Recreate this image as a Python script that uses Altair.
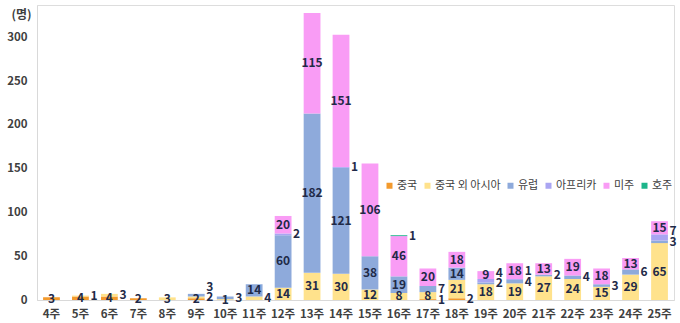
import altair as alt
import pandas as pd

weeks = [f"{w}주" for w in range(4, 26)]
categories = ["중국", "중국 외 아시아", "유럽", "아프리카", "미주", "호주"]
colors = ["#F39A2D", "#FFE28C", "#8EAADB", "#AAA5F2", "#F99CF5", "#1DB58A"]

china    = [3, 4, 4, 2, 0, 2, 0, 0, 0, 0, 0, 0, 0, 1, 2, 0, 0, 0, 0, 0, 0, 0]
asia     = [0, 1, 3, 0, 3, 2, 1, 4, 14, 31, 30, 12, 8, 8, 21, 18, 19, 27, 24, 15, 29, 65]
europe   = [0, 0, 0, 0, 0, 3, 3, 14, 60, 182, 121, 38, 19, 7, 14, 2, 4, 2, 4, 3, 6, 3]
africa   = [0, 0, 0, 0, 0, 0, 0, 0, 2, 0, 1, 0, 0, 0, 0, 4, 1, 0, 0, 0, 0, 7]
americas = [0, 0, 0, 0, 0, 0, 0, 0, 20, 115, 151, 106, 46, 20, 18, 9, 18, 13, 19, 18, 13, 15]
australia = [0, 0, 0, 0, 0, 0, 0, 0, 0, 0, 0, 0, 1, 0, 0, 0, 0, 0, 0, 0, 0, 0]

series = [china, asia, europe, africa, americas, australia]

# stacked segments (derived from the arrays above)
rows = []
for wi, w in enumerate(weeks):
    base_v = 0
    segs = [(ci, series[ci][wi]) for ci in range(len(categories)) if series[ci][wi] > 0]
    prev_out = -1e9
    for si, (ci, v) in enumerate(segs):
        mid = base_v + v / 2
        small = v < 8
        if small and si == 0 and (len(segs) == 1 or segs[1][1] < 8):
            small = False
        if small:
            ly = max(mid, prev_out + 12)
            prev_out = ly
        else:
            ly = mid
        rows.append({"week": w, "category": categories[ci], "value": v, "order": ci,
                     "y0": base_v, "y1": base_v + v, "ly": ly,
                     "side": "out" if small else "in"})
        base_v += v
df = pd.DataFrame(rows)

x_axis = alt.Axis(labelAngle=0, labelFontWeight="bold", labelFontSize=11.5,
                  labelColor="#404040", labelFont="Noto Sans CJK KR",
                  ticks=False, domainColor="#D9D9D9", labelPadding=8)
x_enc = alt.X("week:N", sort=weeks, title=None,
              scale=alt.Scale(paddingInner=0.42, paddingOuter=0.21), axis=x_axis)

bars = alt.Chart(df).mark_bar().encode(
    x=x_enc,
    y=alt.Y("y0:Q", title="(명)",
            scale=alt.Scale(domain=[0, 337], nice=False),
            axis=alt.Axis(values=[0, 50, 100, 150, 200, 250, 300], grid=False, ticks=False,
                          domainColor="#D9D9D9", labelFontWeight="bold", labelFontSize=11.5,
                          labelColor="#404040", labelPadding=10,
                          labelFont="Noto Sans CJK KR",
                          titleAngle=0, titleX=-16, titleY=9, titleAlign="center",
                          titleBaseline="middle", titleFontSize=12, titleFontWeight="bold",
                          titleColor="#404040", titleFont="Noto Sans CJK KR")),
    y2="y1:Q",
    color=alt.Color("category:N", sort=categories,
                    scale=alt.Scale(domain=categories, range=colors),
                    legend=alt.Legend(title=None, orient="none", direction="horizontal",
                                      legendX=347, legendY=175, symbolType="square",
                                      symbolSize=36, labelFontSize=11, labelColor="#404040",
                                      labelFont="Noto Sans CJK KR", columnPadding=4,
                                      symbolStrokeWidth=0, labelOffset=2)),
    order=alt.Order("order:Q"),
)

label_style = dict(fontWeight="bold", fontSize=12, color="#1F2A48",
                   font="Noto Sans CJK KR", baseline="middle")

labels_in = alt.Chart(df).transform_filter("datum.side == 'in'").mark_text(**label_style).encode(
    x=alt.X("week:N", sort=weeks),
    y=alt.Y("ly:Q"),
    text=alt.Text("value:Q"),
)
labels_out = alt.Chart(df).transform_filter("datum.side == 'out'").mark_text(
    align="left", dx=10, **label_style).encode(
    x=alt.X("week:N", sort=weeks),
    y=alt.Y("ly:Q"),
    text=alt.Text("value:Q"),
)

chart = (bars + labels_in + labels_out).properties(
    width=637, height=295,
    autosize=alt.AutoSizeParams(type="none"),
    padding={"left": 37, "top": 5, "right": 6, "bottom": 23},
).configure_view(stroke=None).configure(background="white")

chart.save("out.html", embed_options={"renderer": "svg", "actions": False})
